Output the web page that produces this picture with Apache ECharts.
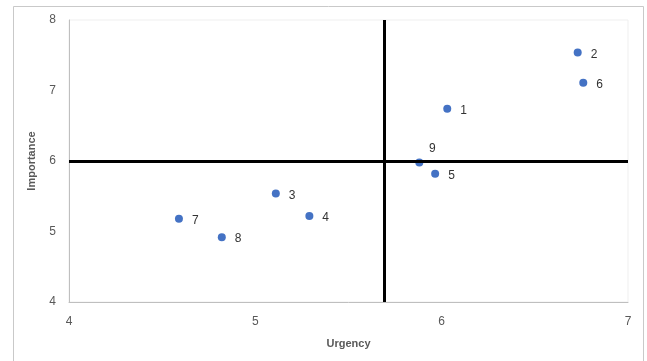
<!DOCTYPE html>
<html>
<head>
<meta charset="utf-8">
<script src="https://cdn.jsdelivr.net/npm/echarts@6/dist/echarts.min.js"></script>
<style>
html,body{margin:0;padding:0;background:#fff;}
#chart{width:647px;height:361px;}
</style>
</head>
<body>
<div id="chart"></div>
<script>
var pointNames = ['1','2','3','4','5','6','7','8','9'];
var urgency    = [6.03, 6.73, 5.11, 5.29, 5.965, 6.76, 4.59, 4.82, 5.88];
var importance = [6.74, 7.54, 5.54, 5.22, 5.82, 7.11, 5.18, 4.92, 5.98];
var urgencyDivider = 5.69;
var importanceDivider = 6;
var xTicks = {min: 4, max: 7, interval: 1};
var yTicks = {min: 4, max: 8, interval: 1};

var data = pointNames.map(function (n, i) {
  var item = {name: n, value: [urgency[i], importance[i]]};
  if (n === '9') {
    item.label = {position: 'top', offset: [13, 5]};
  }
  return item;
});

var chart = echarts.init(document.getElementById('chart'));
chart.setOption({
  animation: false,
  backgroundColor: '#ffffff',
  graphic: [{
    type: 'rect',
    shape: {x: 13.5, y: 6.5, width: 630, height: 362},
    style: {fill: 'none', stroke: '#c9c9c9', lineWidth: 1},
    silent: true
  }],
  grid: {left: 69, right: 19, top: 20, bottom: 59, show: true, borderColor: '#efefef', borderWidth: 1},
  xAxis: {
    type: 'value', min: xTicks.min, max: xTicks.max, interval: xTicks.interval,
    name: 'Urgency', nameLocation: 'middle', nameGap: 36,
    nameTextStyle: {color: '#595959', fontSize: 11, fontWeight: 'bold', fontFamily: 'Liberation Sans'},
    axisLine: {show: true, lineStyle: {color: '#bfbfbf', width: 1}},
    axisTick: {show: false},
    splitLine: {show: false},
    axisLabel: {color: '#595959', fontSize: 12, margin: 14, fontFamily: 'Liberation Sans'}
  },
  yAxis: {
    type: 'value', min: yTicks.min, max: yTicks.max, interval: yTicks.interval,
    name: 'Importance', nameLocation: 'middle', nameGap: 32,
    nameTextStyle: {color: '#595959', fontSize: 11, fontWeight: 'bold', fontFamily: 'Liberation Sans'},
    axisLine: {show: true, lineStyle: {color: '#bfbfbf', width: 1}},
    axisTick: {show: false},
    splitLine: {show: false},
    axisLabel: {color: '#595959', fontSize: 12, margin: 13, fontFamily: 'Liberation Sans', padding: [4, 0, 0, 0]}
  },
  series: [{
    type: 'scatter',
    symbol: 'circle',
    symbolSize: 8,
    itemStyle: {color: '#4472C4', opacity: 1},
    data: data,
    label: {
      show: true, position: 'right', distance: 9, offset: [0, 2],
      formatter: function (p) { return p.name; },
      color: '#333333', fontSize: 12, fontFamily: 'Liberation Sans'
    },
    markLine: {
      silent: true,
      symbol: ['none', 'none'],
      label: {show: false},
      lineStyle: {color: '#000000', width: 3, type: 'solid'},
      data: [{xAxis: urgencyDivider}, {yAxis: importanceDivider}]
    },
    z: 3
  }]
});
</script>
</body>
</html>
